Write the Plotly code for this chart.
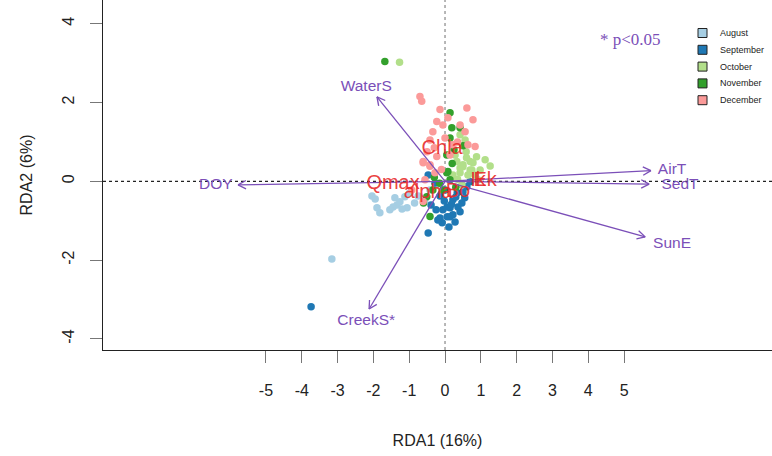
import math
import plotly.graph_objects as go

# ---------------- data ----------------
months = ["August", "September", "October", "November", "December"]
month_colors = ["#A6CEE3", "#1F78B4", "#B2DF8A", "#33A02C", "#FB9A99"]

aug_x = [-2.04, -1.90, -1.82, -1.40, -1.34, -1.26, -1.06, -1.45, -1.12, -0.98, -1.54, -3.16, -0.75, -0.56, -0.42, -0.25, -1.95, -1.20, -0.85]
aug_y = [-0.37, -0.67, -0.80, -0.42, -0.60, -0.52, -0.67, -0.65, -0.39, -0.29, -0.72, -1.97, -0.37, -0.47, -0.22, -0.09, -0.45, -0.70, -0.55]

sep_x = [-0.06, 0.14, -0.14, 0.06, 0.22, -0.08, -0.47, 0.42, 0.36, -0.20, 0.06, 0.22, 0.34, 0.50, 0.61, 0.14, -0.47, 0.70, -0.28, 0.00, -0.14, 0.28, 0.47, -0.25, -3.74, -0.39, 0.11, 0.30, -0.02, 0.18, 0.55]
sep_y = [-0.72, -0.67, -0.93, -0.90, -0.85, -1.05, -1.31, -0.77, -0.65, -0.98, -0.65, -0.47, -0.29, -0.27, -0.14, -0.90, 0.16, -0.01, -0.04, -0.22, -0.37, -1.03, -0.55, -0.72, -3.18, -0.60, -1.16, -0.40, -0.50, -0.58, -0.42]

oct_x = [0.42, 0.56, 0.33, 0.50, 0.70, 0.42, 0.75, 0.50, 0.70, 0.42, 0.64, 0.78, 0.84, 0.22, 1.26, 0.98, 0.92, 0.59, 0.28, -1.27, 1.12, 0.47, 0.60, 0.35, 0.88]
oct_y = [1.18, 1.05, 0.50, 0.42, 0.50, 0.34, 0.29, 0.37, 0.29, 0.22, 0.16, 0.47, 0.16, 0.16, 0.39, 0.29, 0.04, 0.75, 0.67, 3.02, 0.55, -0.09, 0.60, 0.05, 0.62]

nov_x = [-1.68, 0.14, 0.19, 0.14, 0.05, 0.08, 0.05, 0.14, -0.34, -0.51, -0.42, -0.06, 0.42, -0.30, 0.30, -0.60, 0.50, 0.20, -0.15, 0.25]
nov_y = [3.04, 1.74, 1.36, 1.10, 0.67, 0.25, 0.22, 0.04, -0.22, -0.39, -0.89, -0.22, 1.36, 0.10, -0.15, -0.55, 0.90, 0.45, -0.05, 0.80]

dec_x = [-0.70, -0.65, 0.61, 0.78, -0.23, -0.06, -0.34, -0.42, 0.56, 0.64, 0.84, 0.42, 0.14, -0.61, -0.42, -0.23, -0.61, -0.42, -0.28, -0.56, -0.61, -0.93, -0.14, 0.08, 0.22, 0.00, -0.30, -0.10, 0.35, -0.50]
dec_y = [2.15, 2.03, 1.86, 1.56, 1.52, 1.43, 1.26, 1.05, 1.26, 0.93, 0.88, 1.43, 0.67, 0.50, 0.42, 0.63, 0.47, 0.38, 0.22, 0.04, -0.51, -0.22, 1.82, 1.61, 0.93, 1.10, 0.85, 0.30, 1.00, 0.75]

env_names = ["WaterS", "DOY", "CreekS*", "AirT", "SedT", "SunE"]
env_x = [-1.90, -5.78, -2.12, 5.75, 5.70, 5.59]
env_y = [2.14, -0.09, -3.24, 0.27, -0.07, -1.41]
env_label_x = [-2.2, -6.4, -2.2, 6.34, 6.56, 6.34]
env_label_y = [2.40, -0.10, -3.56, 0.29, -0.09, -1.59]

resp_names = ["Chla", "Qmax", "alpha", "Bo", "Ik", "Ek"]
resp_x = [-0.08, -1.45, -0.47, 0.36, 0.92, 1.12]
resp_y = [0.82, -0.06, -0.29, -0.27, 0.01, 0.01]

x_ticks = [-5, -4, -3, -2, -1, 0, 1, 2, 3, 4, 5]
y_ticks = [-4, -2, 0, 2, 4]
x_range = [-9.55, 9.13]
y_range = [-4.28, 4.60]

# ---------------- figure ----------------
W, H = 772, 456
ML, MR, MT, MB = 103, 0, 0, 106
plot_w = W - ML - MR
plot_h = H - MT - MB
sx = plot_w / (x_range[1] - x_range[0])
sy = plot_h / (y_range[1] - y_range[0])

fig = go.Figure()

series = [(aug_x, aug_y), (sep_x, sep_y), (oct_x, oct_y), (nov_x, nov_y), (dec_x, dec_y)]
for (xs, ys), name, col in zip(series, months, month_colors):
    fig.add_trace(go.Scatter(x=xs, y=ys, mode="markers", name=name, showlegend=False,
                             marker=dict(color=col, size=7.5, line=dict(width=0))))

arrow_col = "#7B4FB8"
hx, hy = [], []
for ex, ey in zip(env_x, env_y):
    hx += [0, ex, None]
    hy += [0, ey, None]
    dx, dy = ex * sx, ey * sy
    L = math.hypot(dx, dy)
    ux, uy = dx / L, dy / L
    hl = 9
    for a in (math.radians(28), -math.radians(28)):
        rx = ux * math.cos(a) - uy * math.sin(a)
        ry = ux * math.sin(a) + uy * math.cos(a)
        hx += [ex, ex - rx * hl / sx, None]
        hy += [ey, ey - ry * hl / sy, None]
fig.add_trace(go.Scatter(x=hx, y=hy, mode="lines", showlegend=False, hoverinfo="skip",
                         line=dict(color=arrow_col, width=1.3)))

fig.add_trace(go.Scatter(x=env_label_x, y=env_label_y, mode="text", text=env_names,
                         showlegend=False, textposition="middle center",
                         textfont=dict(color=arrow_col, size=15.5, family="Liberation Sans")))
fig.add_trace(go.Scatter(x=resp_x, y=resp_y, mode="text", text=resp_names,
                         showlegend=False, textposition="middle center",
                         textfont=dict(color="rgba(232,40,40,0.9)", size=20, family="Liberation Sans")))

fig.add_shape(type="line", xref="x", yref="paper", x0=0, x1=0, y0=0, y1=1,
              line=dict(color="#888", width=1.2, dash="dot"), layer="below")
fig.add_shape(type="line", xref="paper", yref="y", x0=0, x1=1, y0=0, y1=0,
              line=dict(color="#222", width=1.2, dash="dot"), layer="below")

fig.add_annotation(text="* p<0.05", xref="paper", yref="paper",
                   x=(630 - ML) / plot_w, y=(plot_h - 39) / plot_h, xanchor="center", yanchor="middle",
                   showarrow=False, font=dict(family="Liberation Serif", size=17, color=arrow_col))

# manual legend (square keys with labels)
leg_x0 = 698
leg_y0 = 33
leg_dy = 16.8
for i, (name, col) in enumerate(zip(months, month_colors)):
    cy = leg_y0 + i * leg_dy
    fig.add_shape(type="rect", xref="paper", yref="paper",
                  x0=(leg_x0 - ML) / plot_w, x1=(leg_x0 + 9 - ML) / plot_w,
                  y0=(plot_h - cy - 4.5) / plot_h, y1=(plot_h - cy + 4.5) / plot_h,
                  fillcolor=col, line=dict(color="#222", width=1))
    fig.add_annotation(text=name, xref="paper", yref="paper",
                       x=(leg_x0 + 20 - ML) / plot_w, y=(plot_h - cy) / plot_h,
                       xanchor="left", yanchor="middle", showarrow=False,
                       font=dict(size=9, color="#222", family="Liberation Sans"))

fig.update_layout(
    width=W, height=H, margin=dict(l=ML, r=MR, t=MT, b=MB),
    paper_bgcolor="white", plot_bgcolor="white", showlegend=False,
    font=dict(family="Liberation Sans", color="#222"),
    xaxis=dict(range=x_range, tickvals=x_ticks, ticktext=[str(v) for v in x_ticks],
               showgrid=False, zeroline=False, showline=True, linecolor="#222", linewidth=1.2,
               ticks="outside", ticklen=12, tickcolor="#777", tickwidth=1.2,
               tickfont=dict(size=16, color="#222"), ticklabelstandoff=14,
               title=dict(text="RDA1 (16%)", font=dict(size=16, color="#222"), standoff=36)),
    yaxis=dict(range=y_range, tickvals=y_ticks, ticktext=[str(v) for v in y_ticks],
               showgrid=False, zeroline=False, showline=True, linecolor="#222", linewidth=1.2,
               ticks="outside", ticklen=12, tickcolor="#777", tickwidth=1.2, tickangle=-90,
               tickfont=dict(size=16, color="#222"), ticklabelstandoff=10,
               title=dict(text="RDA2 (6%)", font=dict(size=16, color="#222"), standoff=22)),
)

fig.write_html("out.html")
